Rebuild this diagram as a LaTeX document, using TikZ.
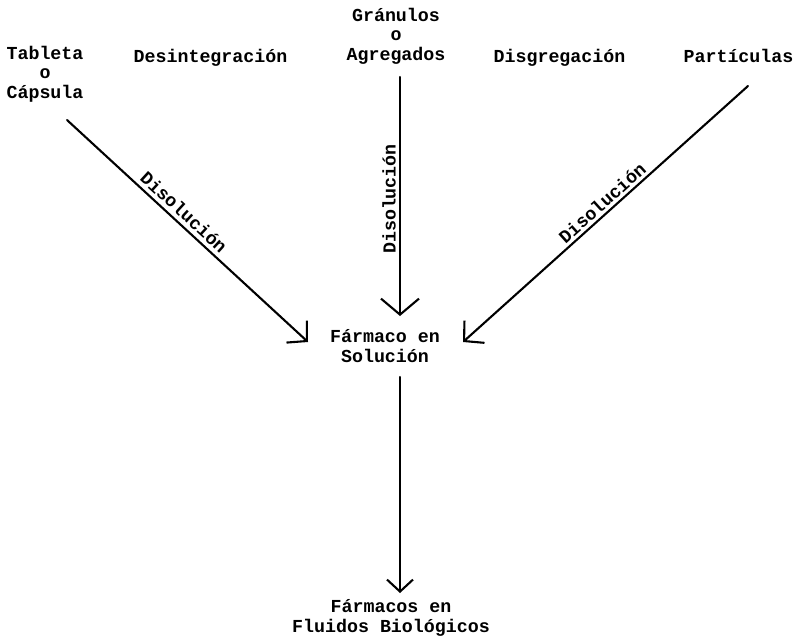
\documentclass[tikz,border=0pt]{standalone}
\usepackage{fontspec}
\setmainfont{Liberation Mono}
\usetikzlibrary{arrows.meta}
\begin{document}
\begin{tikzpicture}[x=1pt,y=-1pt,
  lbl/.style={font=\fontsize{18.3}{19.5}\selectfont\bfseries, align=center, inner sep=0pt, anchor=base},
  slbl/.style={font=\fontsize{18.3}{19.5}\selectfont\bfseries, inner sep=0pt, anchor=center},
  conn/.style={line width=2.1pt, line cap=round},
  bigtip/.style={-{Straight Barb[length=16pt,width=38pt,line width=2.1pt]}},
  midtip/.style={-{Straight Barb[length=14pt,width=30pt,line width=2.1pt]}},
  smalltip/.style={-{Straight Barb[length=12pt,width=26pt,line width=2.1pt]}}]
\useasboundingbox (0,0) rectangle (809,638);

\node[lbl] (tab) at (45,98) {Tableta\\o\\Cápsula};
\node[lbl] (desint) at (210.5,62) {Desintegración};
\node[lbl] (gran) at (396,60) {Gránulos\\o\\Agregados};
\node[lbl] (disg) at (559.5,62) {Disgregación};
\node[lbl] (part) at (738.5,62) {Partículas};
\node[lbl] (farm) at (385,362) {Fármaco en\\Solución};
\node[lbl] (fluid) at (391,632) {Fármacos en\\Fluidos Biológicos};

\coordinate (tabout) at (67,120);
\coordinate (granout) at (400,77);
\coordinate (partout) at (748,86);
\coordinate (farminL) at (308,342);
\coordinate (farminT) at (400,316);
\coordinate (farminR) at (463,342);
\coordinate (farmout) at (400,377);
\coordinate (fluidin) at (400,593);

\draw[conn,midtip] (tabout) -- (farminL);
\draw[conn,bigtip] (granout) -- (farminT);
\draw[conn,midtip] (partout) -- (farminR);
\draw[conn,smalltip] (farmout) -- (fluidin);

\node[slbl,rotate=-42.5] (d1) at (184,212) {Disolución};
\node[slbl,rotate=90] (d2) at (389,199) {Disolución};
\node[slbl,rotate=42] (d3) at (602,203) {Disolución};
\end{tikzpicture}
\end{document}
